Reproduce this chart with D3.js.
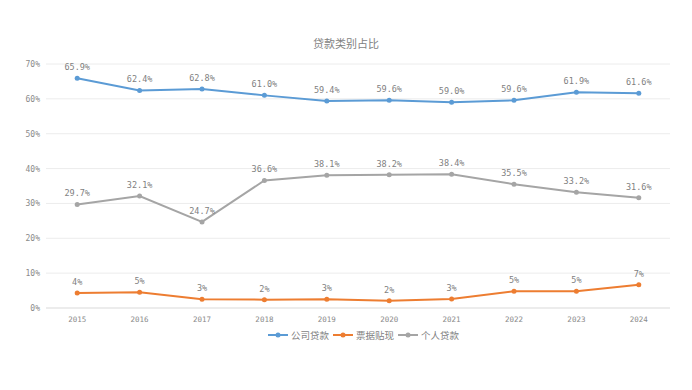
<!DOCTYPE html>
<html><head><meta charset="utf-8">
<script src="https://cdn.jsdelivr.net/npm/d3@7"></script>
<style>body{margin:0;background:#fff}svg{display:block}</style>
</head><body><svg id="c" width="692" height="390"></svg>
<script>
const years = ["2015","2016","2017","2018","2019","2020","2021","2022","2023","2024"];
const corporate = [65.9,62.4,62.8,61.0,59.4,59.6,59.0,59.6,61.9,61.6];
const discount = [4.3,4.5,2.5,2.4,2.5,2.1,2.6,4.8,4.8,6.7];
const personal = [29.7,32.1,24.7,36.6,38.1,38.2,38.4,35.5,33.2,31.6];
const seriesNames = ["公司贷款","票据贴现","个人贷款"];
const colors = ["#5b9bd5","#ed7d31","#a5a5a5"];
const yTicks = [0,10,20,30,40,50,60,70];
const title = "贷款类别占比";

const svg = d3.select("#c");
const L=46,R=670,T=64,B=308;
const x = d3.scaleBand().domain(years).range([L,R]);
const y = d3.scaleLinear().domain([0,70]).range([B,T]);
const numFont = "'DejaVu Sans Mono','Liberation Mono',monospace";
const cjk = "'Noto Sans CJK SC',sans-serif";

svg.append("text").attr("x",346).attr("y",48).attr("text-anchor","middle")
  .attr("font-family",cjk).attr("font-size",11).attr("fill","#7f7f7f").text(title);

const g = svg.append("g");
g.selectAll(".grid").data(yTicks).join("line")
  .attr("x1",L).attr("x2",R).attr("y1",d=>y(d)).attr("y2",d=>y(d))
  .attr("stroke",d=>d===0?"#d9d9d9":"#ececec").attr("stroke-width",1);

const yAxis = svg.append("g").attr("transform",`translate(${L},0)`)
  .call(d3.axisLeft(y).tickValues(yTicks).tickFormat(d=>d+"%").tickSize(0).tickPadding(6));
yAxis.select(".domain").remove();
yAxis.selectAll("text").attr("font-family",numFont).attr("font-size",8).attr("fill","#8a8a8a");

const xAxis = svg.append("g").attr("transform",`translate(0,${B})`)
  .call(d3.axisBottom(x).tickSize(0).tickPadding(9));
xAxis.select(".domain").remove();
xAxis.selectAll("text").attr("font-family",numFont).attr("font-size",7.5).attr("fill","#8a8a8a");

const cx = d=>x(d)+x.bandwidth()/2;
const data = [corporate,discount,personal];
const fmts = [v=>v.toFixed(1)+"%", v=>Math.round(v)+"%", v=>v.toFixed(1)+"%"];
data.forEach((vals,i)=>{
  const pts = years.map((yr,j)=>[yr,vals[j]]);
  svg.append("path").datum(pts)
    .attr("d",d3.line().x(d=>cx(d[0])).y(d=>y(d[1])))
    .attr("fill","none").attr("stroke",colors[i]).attr("stroke-width",2);
  svg.selectAll(".m"+i).data(pts).join("circle")
    .attr("cx",d=>cx(d[0])).attr("cy",d=>y(d[1])).attr("r",2.5).attr("fill",colors[i]);
  svg.selectAll(".l"+i).data(pts).join("text")
    .attr("x",d=>cx(d[0])).attr("y",d=>y(d[1])-8).attr("text-anchor","middle")
    .attr("font-family",numFont).attr("font-size",8.5).attr("fill","#7f7f7f")
    .text(d=>fmts[i](d[1]));
});

// legend
const lg = svg.append("g");
let lx = 268;
seriesNames.forEach((n,i)=>{
  const it = lg.append("g").attr("transform",`translate(${lx},335)`);
  it.append("line").attr("x1",0).attr("x2",20).attr("y1",0).attr("y2",0).attr("stroke",colors[i]).attr("stroke-width",2);
  it.append("circle").attr("cx",10).attr("cy",0).attr("r",2.5).attr("fill",colors[i]);
  const t = it.append("text").attr("x",23).attr("y",3.5).attr("font-family",cjk).attr("font-size",9.5).attr("fill","#7f7f7f").text(n);
  lx += 23 + t.node().getComputedTextLength() + 4;
});
</script></body></html>
